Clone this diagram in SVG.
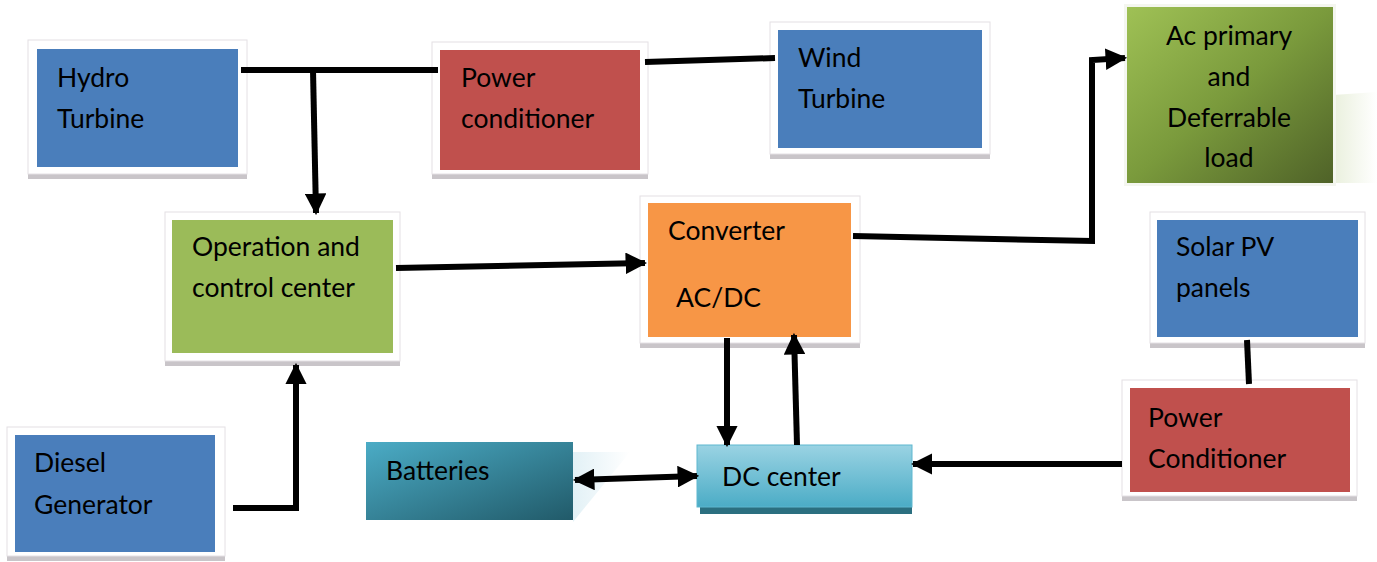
<svg xmlns="http://www.w3.org/2000/svg" width="1377" height="562" viewBox="0 0 1377 562">
<style>
.frame{fill:#ffffff;stroke:#e4e0e4;stroke-width:1}
.shadow{fill:#c9c5c9}
.blue{fill:#4a7ebb}
.red{fill:#c0504d}
.green{fill:#9bbb59}
.orange{fill:#f79646}
text{font-family:Lato,"Liberation Sans",sans-serif;font-size:26.5px;fill:#000}
.conn{fill:none;stroke:#000;stroke-width:6;stroke-linejoin:miter;stroke-linecap:butt}
</style>
<defs>
<marker id="ah" viewBox="0 0 10 10" refX="9" refY="5" markerWidth="3.6" markerHeight="3.6" orient="auto-start-reverse" markerUnits="strokeWidth">
<path d="M0,0 L10,5 L0,10 Z" fill="#000"/>
</marker>
<linearGradient id="gAc" x1="0" y1="0" x2="1" y2="1">
<stop offset="0" stop-color="#9fc155"/>
<stop offset="0.5" stop-color="#7a9a3c"/>
<stop offset="1" stop-color="#4f6228"/>
</linearGradient>
<linearGradient id="gBat" x1="0" y1="0" x2="1" y2="1">
<stop offset="0" stop-color="#4bacc6"/>
<stop offset="1" stop-color="#215a69"/>
</linearGradient>
<linearGradient id="gDc" x1="0" y1="0" x2="0" y2="1">
<stop offset="0" stop-color="#9ad3e3"/>
<stop offset="1" stop-color="#4bacc6"/>
</linearGradient>
<linearGradient id="gRefl" x1="0" y1="0" x2="1" y2="0">
<stop offset="0" stop-color="#e4ecd4"/>
<stop offset="1" stop-color="#ffffff"/>
</linearGradient>
<linearGradient id="gRefl2" x1="0" y1="0" x2="1" y2="0">
<stop offset="0" stop-color="#d6ebf2"/>
<stop offset="1" stop-color="#ffffff"/>
</linearGradient>
</defs>

<g id="hydro-turbine">
<rect class="shadow" x="28" y="172" width="219" height="7"/>
<rect class="frame" x="28" y="40" width="219" height="134"/>
<rect class="blue" x="37" y="49" width="201" height="118"/>
<text x="57" y="87">Hydro</text>
<text x="57" y="128">Turbine</text>
</g>

<g id="power-conditioner-top">
<rect class="shadow" x="432" y="172" width="216" height="7"/>
<rect class="frame" x="432" y="42" width="216" height="132"/>
<rect class="red" x="440" y="50" width="200" height="120"/>
<text x="461" y="87">Power</text>
<text x="461" y="128">conditioner</text>
</g>

<g id="wind-turbine">
<rect class="shadow" x="770" y="152" width="220" height="7"/>
<rect class="frame" x="770" y="22" width="220" height="132"/>
<rect class="blue" x="778" y="30" width="204" height="118"/>
<text x="798" y="67">Wind</text>
<text x="798" y="108">Turbine</text>
</g>

<g id="ac-load">
<polygon points="1333,95 1377,92 1377,183 1333,183" fill="url(#gRefl)" opacity="0.8"/>
<rect x="1124" y="4" width="212" height="182" fill="#f4f6ef"/>
<rect x="1127" y="7" width="206" height="176" fill="url(#gAc)"/>
<text x="1229" y="45" text-anchor="middle">Ac primary</text>
<text x="1229" y="86" text-anchor="middle">and</text>
<text x="1229" y="127" text-anchor="middle">Deferrable</text>
<text x="1229" y="167" text-anchor="middle">load</text>
</g>

<g id="operation-control">
<rect class="shadow" x="165" y="359" width="235" height="7"/>
<rect class="frame" x="165" y="212" width="235" height="149"/>
<rect class="green" x="172" y="220" width="221" height="133"/>
<text x="192" y="256">Operation and</text>
<text x="192" y="297">control center</text>
</g>

<g id="converter">
<rect class="shadow" x="640" y="341" width="220" height="7"/>
<rect class="frame" x="640" y="196" width="220" height="147"/>
<rect class="orange" x="648" y="203" width="203" height="134"/>
<text x="668" y="240">Converter</text>
<text x="676" y="307">AC/DC</text>
</g>

<g id="solar-pv">
<rect class="shadow" x="1150" y="341" width="215" height="7"/>
<rect class="frame" x="1150" y="212" width="215" height="131"/>
<rect class="blue" x="1157" y="220" width="201" height="117"/>
<text x="1176" y="256">Solar PV</text>
<text x="1176" y="297">panels</text>
</g>

<g id="power-conditioner-bottom">
<rect class="shadow" x="1122" y="494" width="235" height="7"/>
<rect class="frame" x="1122" y="380" width="235" height="116"/>
<rect class="red" x="1130" y="388" width="220" height="104"/>
<text x="1148" y="427">Power</text>
<text x="1148" y="468">Conditioner</text>
</g>

<g id="diesel-generator">
<rect class="shadow" x="7" y="554" width="218" height="7"/>
<rect class="frame" x="7" y="427" width="218" height="129"/>
<rect class="blue" x="15" y="435" width="200" height="117"/>
<text x="34" y="472">Diesel</text>
<text x="34" y="514">Generator</text>
</g>

<g id="batteries">
<polygon points="573,452 630,452 573,522" fill="url(#gRefl2)" opacity="0.7"/>
<rect x="366" y="442" width="207" height="78" fill="url(#gBat)"/>
<text x="386" y="480">Batteries</text>
</g>

<g id="dc-center">
<rect x="700" y="500" width="212" height="14" fill="#2b6f80"/>
<rect x="697" y="445" width="215" height="62" fill="url(#gDc)" stroke="#5fb7cf" stroke-width="1"/>
<text x="722" y="486">DC center</text>
</g>

<g id="connectors">
<path class="conn" d="M241,70 L438,70"/>
<path class="conn" d="M313,70 L316,213" marker-end="url(#ah)"/>
<path class="conn" d="M645,62 L775,58"/>
<path class="conn" d="M396,268 L645,263" marker-end="url(#ah)"/>
<path class="conn" d="M853,236 L1092,241 L1092,60 L1125,58" marker-end="url(#ah)"/>
<path class="conn" d="M727,338 L727,445" marker-end="url(#ah)"/>
<path class="conn" d="M797,445 L794,335" marker-end="url(#ah)"/>
<path class="conn" d="M1247,340 L1249,384"/>
<path class="conn" d="M1122,464 L913,464" marker-end="url(#ah)"/>
<path class="conn" d="M575,480 L697,476" marker-start="url(#ah)" marker-end="url(#ah)"/>
<path class="conn" d="M233,508 L296,508 L296,365" marker-end="url(#ah)"/>
</g>
</svg>
